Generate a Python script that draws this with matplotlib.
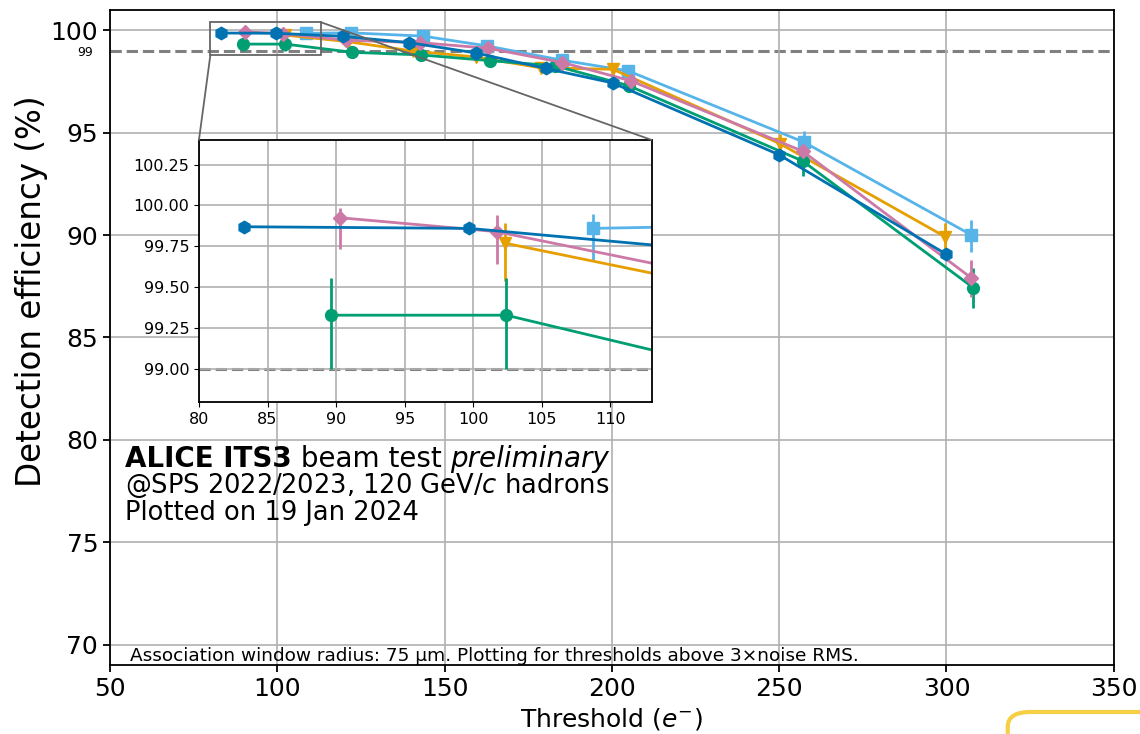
import matplotlib.pyplot as plt
from matplotlib.patches import FancyBboxPatch, Rectangle, ConnectionPatch

# Threshold scans, one list set per chip
thr_blue = [83.3, 99.7, 119.5, 139.4, 159.3, 180.2, 200.3, 249.9, 300.0]
eff_blue = [99.87, 99.86, 99.71, 99.40, 98.90, 98.14, 97.43, 93.93, 89.06]
lo_blue = [0.03, 0.03, 0.05, 0.06, 0.08, 0.10, 0.12, 0.20, 0.25]
hi_blue = [0.02, 0.02, 0.04, 0.05, 0.07, 0.09, 0.11, 0.18, 0.22]

thr_orange = [102.3, 121.0, 140.6, 159.3, 178.8, 200.3, 250.2, 299.5]
eff_orange = [99.77, 99.45, 98.99, 98.70, 98.17, 98.10, 94.47, 89.93]
lo_orange = [0.23, 0.20, 0.20, 0.20, 0.22, 0.25, 0.45, 0.60]
hi_orange = [0.12, 0.15, 0.15, 0.18, 0.20, 0.22, 0.48, 0.65]

thr_green = [89.6, 102.4, 122.4, 143.0, 163.6, 183.0, 205.0, 257.0, 308.0]
eff_green = [99.33, 99.33, 98.93, 98.80, 98.52, 98.27, 97.30, 93.62, 87.43]
lo_green = [0.33, 0.33, 0.20, 0.22, 0.22, 0.22, 0.25, 0.75, 1.00]
hi_green = [0.23, 0.23, 0.18, 0.18, 0.20, 0.20, 0.25, 0.70, 0.95]

thr_pink = [90.3, 101.7, 120.5, 142.6, 163.0, 185.2, 205.6, 257.0, 307.4]
eff_pink = [99.925, 99.84, 99.52, 99.40, 99.13, 98.43, 97.54, 94.10, 87.91]
lo_pink = [0.19, 0.20, 0.20, 0.20, 0.20, 0.25, 0.30, 0.50, 0.95]
hi_pink = [0.06, 0.10, 0.15, 0.15, 0.18, 0.22, 0.28, 0.48, 0.85]

thr_sky = [108.7, 122.0, 143.6, 162.7, 185.2, 204.9, 257.4, 307.4]
eff_sky = [99.86, 99.88, 99.72, 99.24, 98.54, 98.02, 94.54, 90.01]
lo_sky = [0.19, 0.15, 0.15, 0.18, 0.20, 0.25, 0.50, 0.85]
hi_sky = [0.09, 0.08, 0.12, 0.15, 0.20, 0.22, 0.55, 0.75]

series = [
    (thr_sky, eff_sky, lo_sky, hi_sky, '#56B4E9', 's', 8.5),
    (thr_orange, eff_orange, lo_orange, hi_orange, '#E69F00', 'v', 8.5),
    (thr_green, eff_green, lo_green, hi_green, '#009E73', 'o', 8.5),
    (thr_pink, eff_pink, lo_pink, hi_pink, '#CC79A7', 'D', 7.5),
    (thr_blue, eff_blue, lo_blue, hi_blue, '#0072B2', 'h', 9),
]

fig = plt.figure(figsize=(11.4, 7.34), dpi=100)
ax = fig.add_axes([0.0965, 0.094, 0.8805, 0.8925])

def draw(a):
    for x, y, lo, hi, c, m, ms in series:
        a.errorbar(x, y, yerr=[lo, hi], color=c, marker=m, markersize=ms,
                   linewidth=2, elinewidth=2, capsize=0)
    a.axhline(99, color='grey', linestyle='--', linewidth=2.2, zorder=0)
    a.grid(True, color='#b0b0b0', linewidth=1.2)
    a.set_axisbelow(True)
    for s in a.spines.values():
        s.set_linewidth(1.3)

draw(ax)
ax.set_xlim(50, 350)
ax.set_ylim(69, 101)
ax.set_yticks([70, 75, 80, 85, 90, 95, 100])
ax.set_yticks([99], labels=['99'], minor=True)
ax.tick_params(axis='both', which='major', labelsize=18, length=5, width=1.3)
ax.tick_params(axis='y', which='minor', labelsize=9, length=0, pad=12)
ax.set_xlabel('Threshold ($e^{-}$)', fontsize=18, labelpad=4)
ax.set_ylabel('Detection efficiency (%)', fontsize=23.5)
ax.yaxis.set_label_coords(-0.062, 0.57)

# label block
t1 = ax.text(0.015, 0.302, 'ALICE ITS3', transform=ax.transAxes,
             fontsize=20, fontweight='bold')
t2 = ax.annotate(' beam test ', xy=(1, 0), xycoords=t1, va='bottom',
                 fontsize=20)
ax.annotate('preliminary', xy=(1, 0), xycoords=t2, va='bottom',
            fontsize=20, fontstyle='italic')
ax.text(0.015, 0.262, '@SPS 2022/2023, 120 GeV/$c$ hadrons',
        transform=ax.transAxes, fontsize=18.5)
ax.text(0.015, 0.222, 'Plotted on 19 Jan 2024',
        transform=ax.transAxes, fontsize=18.5)
ax.text(0.02, 0.006,
        'Association window radius: 75 µm. Plotting for thresholds above 3×noise RMS.',
        transform=ax.transAxes, fontsize=13.3)

# zoomed inset on the low-threshold points
x0, x1, y0, y1 = 80, 113, 98.8, 100.4
axin = ax.inset_axes([0.0886, 0.4015, 0.451, 0.40])
axin.set_facecolor('white')
draw(axin)
axin.set_xlim(x0, x1)
axin.set_ylim(y0, y1)
axin.set_xticks([80, 85, 90, 95, 100, 105, 110])
axin.set_yticks([99.0, 99.25, 99.5, 99.75, 100.0, 100.25])
axin.set_yticklabels(['99.00', '99.25', '99.50', '99.75', '100.00', '100.25'])
axin.tick_params(labelsize=11.5)

ax.add_patch(Rectangle((x0, y0), x1 - x0, y1 - y0, fill=False,
                       edgecolor='#666666', linewidth=1.3, zorder=4))
for xa, ya, xb, yb in [(x0, y0, 0, 1), (x1, y1, 1, 1)]:
    fig.add_artist(ConnectionPatch((xa, ya), (xb, yb), coordsA=ax.transData,
                                   coordsB=axin.transAxes, color='#666666',
                                   linewidth=1.3))

# partial highlight box in the corner of the screenshot
fig.patches.append(FancyBboxPatch((0.884, -0.2), 0.3, 0.23,
                                  boxstyle='round,pad=0,rounding_size=0.02',
                                  transform=fig.transFigure, fill=False,
                                  edgecolor='#F7CF45', linewidth=3))

fig.savefig('out.png', dpi=100)
